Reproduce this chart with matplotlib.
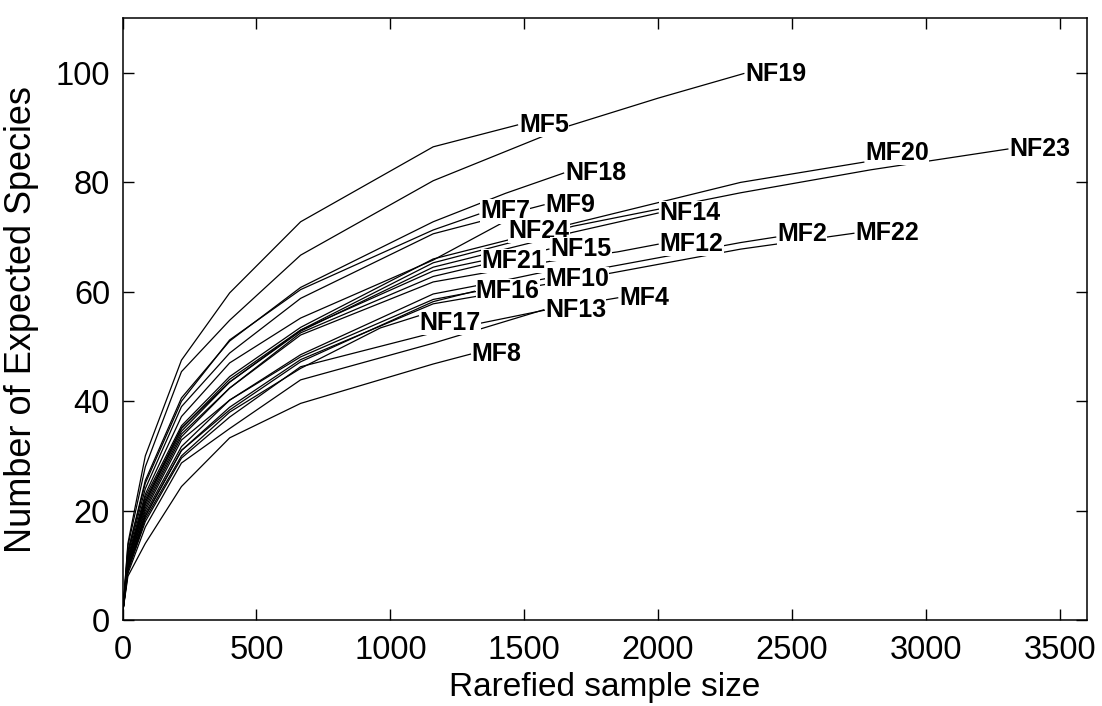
import matplotlib.pyplot as plt

plt.rcParams['font.family'] = ['Liberation Sans', 'DejaVu Sans']

# Đường cong rarefaction cho từng điểm lấy mẫu (kích thước mẫu, số loài kỳ vọng)
mf5_n = [1, 20, 85, 220, 400, 665, 1160, 1475]
mf5_s = [1.5, 14.0, 30.0, 47.5, 59.8, 72.8, 86.5, 90.5]

nf19_n = [1, 20, 85, 220, 400, 665, 1160, 1665, 2000, 2320]
nf19_s = [1.5, 13.5, 28.0, 45.4, 54.8, 66.7, 80.3, 90.3, 95.4, 99.9]

nf18_n = [1, 20, 85, 220, 400, 665, 1160, 1430, 1647]
nf18_s = [1.5, 12.5, 25.5, 40.6, 51.0, 60.8, 72.8, 78.0, 81.7]

mf7_n = [1, 20, 85, 220, 400, 665, 1160, 1330]
mf7_s = [1.5, 12.5, 25.0, 40.0, 51.2, 60.4, 71.3, 74.2]

mf9_n = [1, 20, 85, 220, 400, 665, 1160, 1574]
mf9_s = [1.5, 12.0, 24.0, 39.0, 48.8, 58.8, 70.6, 75.9]

nf24_n = [1, 20, 85, 220, 400, 665, 1160, 1437]
nf24_s = [1.5, 11.5, 23.0, 37.2, 47.0, 55.2, 65.8, 73.1]

mf20_n = [1, 20, 85, 220, 400, 665, 1160, 1684, 2308, 2768]
mf20_s = [1.5, 11.0, 22.5, 35.5, 44.5, 53.5, 66.0, 72.5, 80.0, 83.7]

nf23_n = [1, 20, 85, 220, 400, 665, 1160, 1684, 2308, 2794, 3306]
nf23_s = [1.5, 11.0, 22.0, 35.0, 44.0, 53.0, 65.3, 72.0, 78.1, 82.3, 86.1]

nf14_n = [1, 20, 85, 220, 400, 665, 1160, 1684, 2000]
nf14_s = [1.5, 10.5, 21.5, 34.5, 43.5, 52.8, 64.5, 70.9, 74.4]

mf21_n = [1, 20, 85, 220, 400, 665, 1160, 1336]
mf21_s = [1.5, 10.5, 21.5, 35.1, 43.5, 53.0, 63.8, 65.6]

nf15_n = [1, 20, 85, 220, 400, 665, 1160, 1592]
nf15_s = [1.5, 10.5, 21.0, 34.0, 42.4, 52.5, 62.8, 67.8]

mf12_n = [1, 20, 85, 220, 400, 665, 1160, 1600, 1849, 2000]
mf12_s = [1.5, 10.0, 20.5, 33.5, 42.4, 52.1, 61.8, 65.6, 67.3, 68.7]

mf10_n = [1, 20, 85, 220, 400, 665, 1160, 1437, 1572]
mf10_s = [1.5, 10.0, 20.0, 32.9, 40.2, 48.5, 59.6, 62.2, 63.6]

mf2_n = [1, 20, 85, 220, 400, 665, 1160, 1811, 2308, 2439]
mf2_s = [1.5, 9.5, 19.5, 31.7, 40.2, 48.1, 58.6, 64.5, 69.0, 70.0]

mf22_n = [1, 20, 85, 220, 400, 665, 1160, 1822, 2308, 2731]
mf22_s = [1.5, 9.5, 19.0, 31.0, 38.9, 47.6, 57.8, 63.4, 67.8, 70.7]

mf16_n = [1, 20, 85, 220, 400, 665, 1160, 1314]
mf16_s = [1.5, 9.5, 19.0, 31.0, 38.4, 47.2, 58.2, 60.1]

mf4_n = [1, 20, 85, 220, 400, 665, 1160, 1572, 1849]
mf4_s = [1.5, 9.0, 18.0, 29.6, 37.1, 46.3, 52.5, 56.6, 58.9]

nf17_n = [1, 20, 85, 220, 400, 665, 963, 1105]
nf17_s = [1.5, 9.0, 18.5, 30.0, 38.0, 46.0, 53.4, 55.6]

nf13_n = [1, 20, 85, 220, 400, 665, 1160, 1336, 1572]
nf13_s = [1.5, 8.5, 17.0, 28.7, 35.0, 43.9, 50.6, 53.2, 56.7]

mf8_n = [1, 20, 85, 220, 400, 665, 1160, 1299]
mf8_s = [1.5, 8.0, 14.0, 24.4, 33.3, 39.6, 46.8, 48.6]

curves = [
    ('MF5', mf5_n, mf5_s), ('NF19', nf19_n, nf19_s), ('NF18', nf18_n, nf18_s),
    ('MF7', mf7_n, mf7_s), ('MF9', mf9_n, mf9_s), ('NF24', nf24_n, nf24_s),
    ('MF20', mf20_n, mf20_s), ('NF23', nf23_n, nf23_s), ('NF14', nf14_n, nf14_s),
    ('MF21', mf21_n, mf21_s), ('NF15', nf15_n, nf15_s), ('MF12', mf12_n, mf12_s),
    ('MF10', mf10_n, mf10_s), ('MF2', mf2_n, mf2_s), ('MF22', mf22_n, mf22_s),
    ('MF16', mf16_n, mf16_s), ('MF4', mf4_n, mf4_s), ('NF17', nf17_n, nf17_s),
    ('NF13', nf13_n, nf13_s), ('MF8', mf8_n, mf8_s),
]

# dịch nhãn lên/xuống một chút (points) cho đỡ chồng nhau
label_dy = {'MF20': 6.5, 'NF24': -8, 'MF10': -5, 'NF17': -5, 'MF2': 2, 'MF7': 2}

fig = plt.figure(figsize=(11.02, 7.06), dpi=100)
ax = fig.add_axes([0.1112, 0.1218, 0.8748, 0.8523])

for name, n, s in curves:
    ax.plot(n, s, color='black', linewidth=0.9, zorder=2)
    ax.annotate(name, xy=(n[-1], s[-1]), xytext=(1, label_dy.get(name, 0)),
                textcoords='offset points', ha='left', va='center',
                fontsize=18, fontweight='bold', zorder=3,
                bbox=dict(facecolor='white', edgecolor='none', pad=0.2))

ax.set_xlim(0, 3600)
ax.set_ylim(0, 110)
ax.set_xticks(range(0, 3501, 500))
ax.set_yticks(range(0, 101, 20))
ax.tick_params(direction='in', length=8, width=1, top=True, right=True,
               labelsize=23.5, pad=9)
ax.tick_params(axis='x', pad=11)
for sp in ax.spines.values():
    sp.set_linewidth(1.1)

ax.set_xlabel('Rarefied sample size', fontsize=24, labelpad=4)
ax.set_ylabel('Number of Expected Species', fontsize=26, labelpad=12)

plt.savefig('out.png', dpi=100)
